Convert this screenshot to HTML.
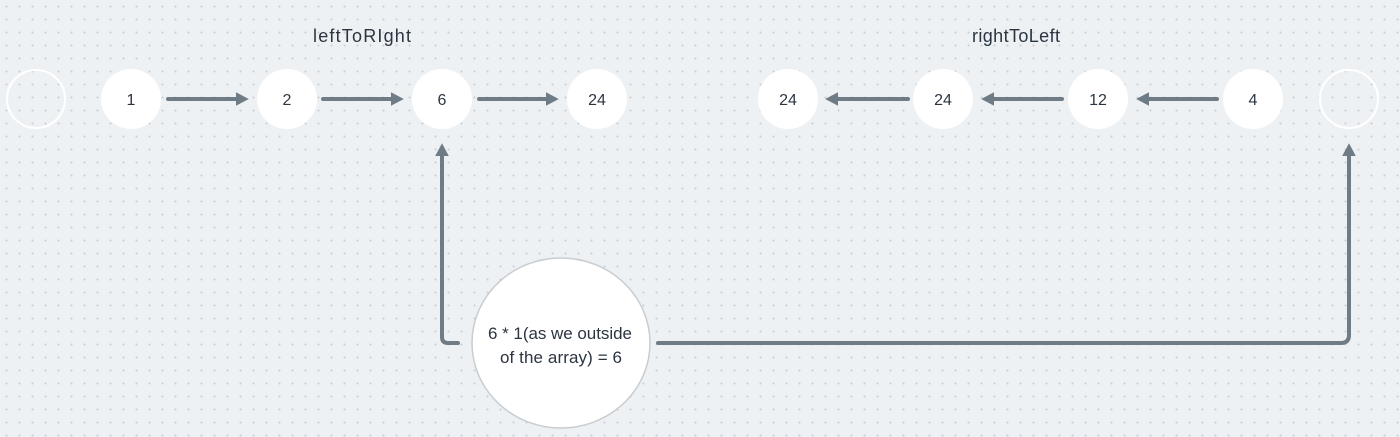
<!DOCTYPE html>
<html><head><style>
html,body{margin:0;padding:0}
body{width:1400px;height:437px;overflow:hidden;background-color:#eef1f4;
background-image:radial-gradient(circle,#c9cfd5 0.8px,transparent 1.2px);background-size:13px 13px;
font-family:"Liberation Sans",sans-serif;}
</style></head><body>
<svg width="1400" height="437" xmlns="http://www.w3.org/2000/svg" style="position:absolute;left:0;top:0">
<defs>
<marker id="a" markerWidth="4" markerHeight="4" refX="2" refY="2" orient="auto" markerUnits="strokeWidth">
<path d="M0,0.3 L3.2,2 L0,3.7 Z" fill="#6f7c86"/>
</marker>
</defs>
<g fill="none" stroke="#6f7c86" stroke-width="4" stroke-linecap="round">
<line x1="168" y1="99" x2="244" y2="99" marker-end="url(#a)"/>
<line x1="323" y1="99" x2="399" y2="99" marker-end="url(#a)"/>
<line x1="479" y1="99" x2="554" y2="99" marker-end="url(#a)"/>
<line x1="908" y1="99" x2="830" y2="99" marker-end="url(#a)"/>
<line x1="1062" y1="99" x2="986" y2="99" marker-end="url(#a)"/>
<line x1="1217" y1="99" x2="1141" y2="99" marker-end="url(#a)"/>
<path d="M458,343 H448 Q442,343 442,337 V148" marker-end="url(#a)"/>
<path d="M658,343 H1341 Q1349,343 1349,335 V148" marker-end="url(#a)"/>
</g>
<g stroke="#fff" stroke-width="2" fill="none">
<circle cx="36" cy="99" r="29"/>
<circle cx="1349" cy="99" r="29"/>
</g>
<g fill="#fff">
<circle cx="131" cy="99" r="30"/><circle cx="287" cy="99" r="30"/>
<circle cx="442" cy="99" r="30"/><circle cx="597" cy="99" r="30"/>
<circle cx="788" cy="99" r="30"/><circle cx="943" cy="99" r="30"/>
<circle cx="1098" cy="99" r="30"/><circle cx="1253" cy="99" r="30"/>
</g>
<ellipse cx="561" cy="343" rx="89" ry="85" fill="#fff" stroke="#c8cdd1" stroke-width="1.5"/>
<g font-family="Liberation Sans, sans-serif" font-size="16" fill="#2b3540" text-anchor="middle">
<text x="131" y="105">1</text><text x="287" y="105">2</text>
<text x="442" y="105">6</text><text x="597" y="105">24</text>
<text x="788" y="105">24</text><text x="943" y="105">24</text>
<text x="1098" y="105">12</text><text x="1253" y="105">4</text>
<text x="362" y="42" font-size="18" textLength="98">leftToRIght</text>
<text x="1016" y="42" font-size="18" textLength="88">rightToLeft</text>
<text x="560" y="339" font-size="17" textLength="144">6 * 1(as we outside</text>
<text x="561" y="363" font-size="17" textLength="122">of the array) = 6</text>
</g>
</svg>
</body></html>
